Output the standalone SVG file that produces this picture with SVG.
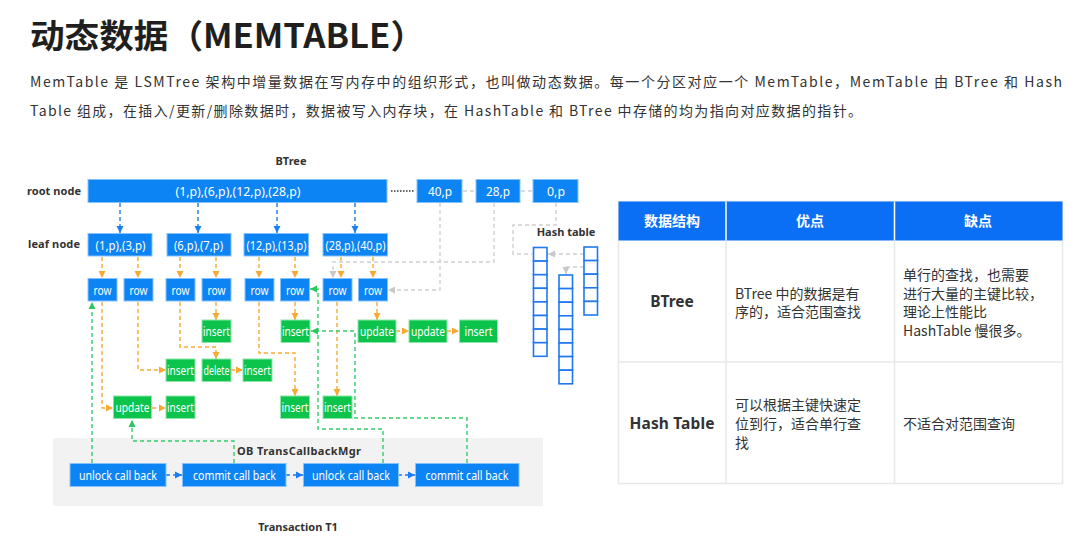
<svg xmlns="http://www.w3.org/2000/svg" width="1086" height="547" viewBox="0 0 1086 547">
<defs>
<style>
.f{font-family:"Noto Sans","Open Sans","Noto Sans CJK SC",sans-serif}
.cjk{font-family:"Noto Sans CJK SC","Noto Sans",sans-serif}
.b{fill:#0d84f4;stroke:#86c1ff;stroke-width:1}
.g{fill:#0cc44b;stroke:#8de6a8;stroke-width:1}
.nt{font-family:"Noto Sans","Open Sans",sans-serif;font-size:12px;fill:#fff;text-anchor:middle;dominant-baseline:central}
.lb{font-family:"Noto Sans","Open Sans",sans-serif;font-weight:bold;fill:#333;font-size:11px}
.o{fill:none;stroke:#f7a934;stroke-width:1.4;stroke-dasharray:4 3}
.bl{fill:none;stroke:#1a7ef2;stroke-width:1.4;stroke-dasharray:4 3}
.gr{fill:none;stroke:#35cd68;stroke-width:1.4;stroke-dasharray:4 3}
.gy{fill:none;stroke:#d0d0d0;stroke-width:1.4;stroke-dasharray:4 3}
.hc{fill:#fff;stroke:#1f78f0;stroke-width:1.6}
.tt{font-family:"Noto Sans CJK SC","Noto Sans",sans-serif;font-size:14px;fill:#333}
</style>
<marker id="mo" markerUnits="userSpaceOnUse" markerWidth="8" markerHeight="8" refX="7" refY="4" orient="auto"><path d="M0,0.5 L7,4 L0,7.5 z" fill="#f7a934"/></marker>
<marker id="mb" markerUnits="userSpaceOnUse" markerWidth="8" markerHeight="8" refX="7" refY="4" orient="auto"><path d="M0,0.5 L7,4 L0,7.5 z" fill="#1a7ef2"/></marker>
<marker id="mg" markerUnits="userSpaceOnUse" markerWidth="8" markerHeight="8" refX="7" refY="4" orient="auto"><path d="M0,0.5 L7,4 L0,7.5 z" fill="#2cc85f"/></marker>
<marker id="my" markerUnits="userSpaceOnUse" markerWidth="8" markerHeight="8" refX="7" refY="4" orient="auto"><path d="M0,0.5 L7,4 L0,7.5 z" fill="#c8c8c8"/></marker>
</defs>
<rect width="1086" height="547" fill="#fff"/>

<text x="30" y="48" class="cjk" font-size="33" font-weight="bold" fill="#1f1f1f" textLength="395" lengthAdjust="spacingAndGlyphs">动态数据（MEMTABLE）</text>
<text x="30" y="87" class="tt" textLength="1032" lengthAdjust="spacing">MemTable 是 LSMTree 架构中增量数据在写内存中的组织形式，也叫做动态数据。每一个分区对应一个 MemTable，MemTable 由 BTree 和 Hash</text>
<text x="30" y="116" class="tt" textLength="832" lengthAdjust="spacing">Table 组成，在插入/更新/删除数据时，数据被写入内存块，在 HashTable 和 BTree 中存储的均为指向对应数据的指针。</text>

<!-- labels -->
<text x="291" y="165" class="lb" font-size="12" text-anchor="middle">BTree</text>
<text x="27" y="195" class="lb" font-size="10.5" textLength="54">root node</text>
<text x="28" y="248" class="lb" font-size="10.5" textLength="52">leaf node</text>
<text x="566" y="236" class="lb" text-anchor="middle">Hash table</text>

<!-- bottom panel -->
<rect x="53" y="438" width="490" height="68" fill="#f2f2f2"/>
<text x="237" y="455" class="lb" font-size="12" textLength="124">OB TransCallbackMgr</text>
<text x="298" y="531" class="lb" font-size="12" text-anchor="middle">Transaction T1</text>

<g id="connectors">
<path class="bl" d="M120 203V233" marker-end="url(#mb)"/>
<path class="bl" d="M198 203V233" marker-end="url(#mb)"/>
<path class="bl" d="M277 203V233" marker-end="url(#mb)"/>
<path class="bl" d="M355 203V233" marker-end="url(#mb)"/>
<path d="M391 191H415" fill="none" stroke="#333" stroke-width="1.4" stroke-dasharray="1.5 1.5"/>
<path class="gy" d="M463 191H475"/>
<path class="gy" d="M521 191H533"/>
<path class="gy" d="M440 203V290H388" marker-end="url(#my)"/>
<path class="gy" d="M494 203V262H333V278" marker-end="url(#my)"/>
<path class="gy" d="M556 203V225H513V254H532"/>
<path class="gy" d="M584 254H548" marker-end="url(#my)"/>
<path class="gy" d="M584 267H566V274" marker-end="url(#my)"/>

<path class="o" d="M102 257V278" marker-end="url(#mo)"/>
<path class="o" d="M138 257V278" marker-end="url(#mo)"/>
<path class="o" d="M180 257V278" marker-end="url(#mo)"/>
<path class="o" d="M216 257V278" marker-end="url(#mo)"/>
<path class="o" d="M259 257V278" marker-end="url(#mo)"/>
<path class="o" d="M295 257V278" marker-end="url(#mo)"/>
<path class="o" d="M341 257V278" marker-end="url(#mo)"/>
<path class="o" d="M373 257V278" marker-end="url(#mo)"/>

<path class="o" d="M102 302V408H113" marker-end="url(#mo)"/>
<path class="o" d="M138 302V370H166" marker-end="url(#mo)"/>
<path class="o" d="M180 302V347H216V359" marker-end="url(#mo)"/>
<path class="o" d="M216 302V320" marker-end="url(#mo)"/>
<path class="o" d="M259 302V353H295V396" marker-end="url(#mo)"/>
<path class="o" d="M295 302V320" marker-end="url(#mo)"/>
<path class="o" d="M337 302V396" marker-end="url(#mo)"/>
<path class="o" d="M377 302V320" marker-end="url(#mo)"/>
<path class="o" d="M231 370H243" marker-end="url(#mo)"/>
<path class="o" d="M152 408H166" marker-end="url(#mo)"/>
<path class="o" d="M396 331H409" marker-end="url(#mo)"/>
<path class="o" d="M447 331H459" marker-end="url(#mo)"/>

<path class="gr" d="M92 463V302" marker-end="url(#mg)"/>
<path class="gr" d="M234 463V441H132V420" marker-end="url(#mg)"/>
<path class="gr" d="M383 463V429H318V289H310" marker-end="url(#mg)"/>
<path class="gr" d="M467 463V418H355V331H311" marker-end="url(#mg)"/>

<path class="bl" d="M166 475H182" marker-end="url(#mb)"/>
<path class="bl" d="M286 475H303" marker-end="url(#mb)"/>
<path class="bl" d="M398 475H415" marker-end="url(#mb)"/>
</g>

<g id="root"><rect class="b" x="88" y="179.5" width="299" height="23"/><text class="nt" x="238" y="191" font-size="12.5" textLength="125" lengthAdjust="spacingAndGlyphs">(1,p),(6,p),(12,p),(28,p)</text></g>
<g id="h40"><rect class="b" x="417" y="179.5" width="45" height="23"/><text class="nt" x="440" y="191" font-size="12.5" textLength="24" lengthAdjust="spacingAndGlyphs">40,p</text></g>
<g id="h28"><rect class="b" x="476" y="179.5" width="44" height="23"/><text class="nt" x="498" y="191" font-size="12.5" textLength="24" lengthAdjust="spacingAndGlyphs">28,p</text></g>
<g id="h0"><rect class="b" x="533" y="179.5" width="45" height="23"/><text class="nt" x="556" y="191" font-size="12.5" textLength="18" lengthAdjust="spacingAndGlyphs">0,p</text></g>

<g id="leaf1"><rect class="b" x="88" y="233.5" width="64" height="22.5"/><text class="nt" x="120.5" y="245" textLength="50" lengthAdjust="spacingAndGlyphs">(1,p),(3,p)</text></g>
<g id="leaf2"><rect class="b" x="167" y="233.5" width="64" height="22.5"/><text class="nt" x="198.5" y="245" textLength="49" lengthAdjust="spacingAndGlyphs">(6,p),(7,p)</text></g>
<g id="leaf3"><rect class="b" x="244" y="233.5" width="64.5" height="22.5"/><text class="nt" x="276.5" y="245" textLength="60" lengthAdjust="spacingAndGlyphs">(12,p),(13,p)</text></g>
<g id="leaf4"><rect class="b" x="323" y="233.5" width="64.5" height="22.5"/><text class="nt" x="355.5" y="245" textLength="60" lengthAdjust="spacingAndGlyphs">(28,p),(40,p)</text></g>

<g id="row1"><rect class="b" x="88" y="278.5" width="29" height="22.5"/><text class="nt" x="102.5" y="290" textLength="18" lengthAdjust="spacingAndGlyphs">row</text></g>
<g id="row2"><rect class="b" x="124" y="278.5" width="29" height="22.5"/><text class="nt" x="138.5" y="290" textLength="18" lengthAdjust="spacingAndGlyphs">row</text></g>
<g id="row3"><rect class="b" x="166" y="278.5" width="29" height="22.5"/><text class="nt" x="180.5" y="290" textLength="18" lengthAdjust="spacingAndGlyphs">row</text></g>
<g id="row4"><rect class="b" x="202" y="278.5" width="29" height="22.5"/><text class="nt" x="216.5" y="290" textLength="18" lengthAdjust="spacingAndGlyphs">row</text></g>
<g id="row5"><rect class="b" x="245" y="278.5" width="29" height="22.5"/><text class="nt" x="259.5" y="290" textLength="18" lengthAdjust="spacingAndGlyphs">row</text></g>
<g id="row6"><rect class="b" x="280.5" y="278.5" width="29" height="22.5"/><text class="nt" x="295" y="290" textLength="18" lengthAdjust="spacingAndGlyphs">row</text></g>
<g id="row7"><rect class="b" x="323" y="278.5" width="29" height="22.5"/><text class="nt" x="337.5" y="290" textLength="18" lengthAdjust="spacingAndGlyphs">row</text></g>
<g id="row8"><rect class="b" x="358.5" y="278.5" width="29" height="22.5"/><text class="nt" x="373" y="290" textLength="18" lengthAdjust="spacingAndGlyphs">row</text></g>

<g id="ins4"><rect class="g" x="202" y="320" width="29" height="22.5"/><text class="nt" x="216.5" y="331.5" textLength="27" lengthAdjust="spacingAndGlyphs">insert</text></g>
<g id="ins6"><rect class="g" x="281" y="320" width="29" height="22.5"/><text class="nt" x="295.5" y="331.5" textLength="27" lengthAdjust="spacingAndGlyphs">insert</text></g>
<g id="upd8a"><rect class="g" x="358" y="320" width="38" height="22.5"/><text class="nt" x="377" y="331.5" textLength="34" lengthAdjust="spacingAndGlyphs">update</text></g>
<g id="upd8b"><rect class="g" x="409" y="320" width="38" height="22.5"/><text class="nt" x="428" y="331.5" textLength="34" lengthAdjust="spacingAndGlyphs">update</text></g>
<g id="ins8"><rect class="g" x="459.5" y="320" width="38" height="22.5"/><text class="nt" x="478.5" y="331.5" textLength="28" lengthAdjust="spacingAndGlyphs">insert</text></g>

<g id="ins2"><rect class="g" x="166" y="359" width="29" height="22.5"/><text class="nt" x="180.5" y="370.5" textLength="27" lengthAdjust="spacingAndGlyphs">insert</text></g>
<g id="del3"><rect class="g" x="202" y="359" width="29" height="22.5"/><text class="nt" x="216.5" y="370.5" textLength="26" lengthAdjust="spacingAndGlyphs">delete</text></g>
<g id="ins3"><rect class="g" x="243" y="359" width="29" height="22.5"/><text class="nt" x="257.5" y="370.5" textLength="27" lengthAdjust="spacingAndGlyphs">insert</text></g>

<g id="upd1"><rect class="g" x="113.5" y="396" width="38" height="22.5"/><text class="nt" x="132.5" y="407.5" textLength="34" lengthAdjust="spacingAndGlyphs">update</text></g>
<g id="ins1"><rect class="g" x="166" y="396" width="29" height="22.5"/><text class="nt" x="180.5" y="407.5" textLength="27" lengthAdjust="spacingAndGlyphs">insert</text></g>
<g id="ins5"><rect class="g" x="280.5" y="396" width="29" height="22.5"/><text class="nt" x="295" y="407.5" textLength="27" lengthAdjust="spacingAndGlyphs">insert</text></g>
<g id="ins7"><rect class="g" x="323" y="396" width="29" height="22.5"/><text class="nt" x="337.5" y="407.5" textLength="27" lengthAdjust="spacingAndGlyphs">insert</text></g>

<g id="cb1"><rect class="b" x="70" y="463.5" width="96" height="23"/><text class="nt" x="118" y="475" textLength="78" lengthAdjust="spacingAndGlyphs">unlock call back</text></g>
<g id="cb2"><rect class="b" x="182.5" y="463.5" width="103.5" height="23"/><text class="nt" x="234.5" y="475" textLength="83" lengthAdjust="spacingAndGlyphs">commit call back</text></g>
<g id="cb3"><rect class="b" x="303.5" y="463.5" width="95" height="23"/><text class="nt" x="351" y="475" textLength="78" lengthAdjust="spacingAndGlyphs">unlock call back</text></g>
<g id="cb4"><rect class="b" x="415.5" y="463.5" width="103.5" height="23"/><text class="nt" x="467" y="475" textLength="83" lengthAdjust="spacingAndGlyphs">commit call back</text></g>

<g id="hashtable">
<rect class="hc" x="533.5" y="247.5" width="13.5" height="13.6"/>
<rect class="hc" x="533.5" y="261.1" width="13.5" height="13.6"/>
<rect class="hc" x="533.5" y="274.7" width="13.5" height="13.6"/>
<rect class="hc" x="533.5" y="288.3" width="13.5" height="13.6"/>
<rect class="hc" x="533.5" y="301.9" width="13.5" height="13.6"/>
<rect class="hc" x="533.5" y="315.5" width="13.5" height="13.6"/>
<rect class="hc" x="533.5" y="329.1" width="13.5" height="13.6"/>
<rect class="hc" x="533.5" y="342.7" width="13.5" height="13.6"/>
<rect class="hc" x="559" y="275" width="13.5" height="13.6"/>
<rect class="hc" x="559" y="288.6" width="13.5" height="13.6"/>
<rect class="hc" x="559" y="302.2" width="13.5" height="13.6"/>
<rect class="hc" x="559" y="315.8" width="13.5" height="13.6"/>
<rect class="hc" x="559" y="329.4" width="13.5" height="13.6"/>
<rect class="hc" x="559" y="343" width="13.5" height="13.6"/>
<rect class="hc" x="559" y="356.6" width="13.5" height="13.6"/>
<rect class="hc" x="559" y="370.2" width="13.5" height="13.6"/>
<rect class="hc" x="584" y="247" width="13.5" height="13.6"/>
<rect class="hc" x="584" y="260.6" width="13.5" height="13.6"/>
<rect class="hc" x="584" y="274.2" width="13.5" height="13.6"/>
<rect class="hc" x="584" y="287.8" width="13.5" height="13.6"/>
<rect class="hc" x="584" y="301.4" width="13.5" height="13.6"/>
</g>

<g id="table">
<rect x="618.5" y="201.5" width="444" height="282" fill="#fff" stroke="#e8e8e8" stroke-width="1.5"/>
<rect x="618.5" y="201.5" width="444" height="39" fill="#0b6ff6"/>
<path d="M726 201.5V240.5M894.5 201.5V240.5" stroke="#fff" stroke-width="1.5"/>
<path d="M726 240.5V483.5M894.5 240.5V483.5M618.5 362H1062.5" stroke="#e8e8e8" stroke-width="1.5" fill="none"/>
<text x="672" y="226" class="cjk" font-size="14" font-weight="bold" fill="#fff" text-anchor="middle">数据结构</text>
<text x="810" y="226" class="cjk" font-size="14" font-weight="bold" fill="#fff" text-anchor="middle">优点</text>
<text x="978" y="226" class="cjk" font-size="14" font-weight="bold" fill="#fff" text-anchor="middle">缺点</text>
<text x="672" y="307" class="f" font-size="15.5" font-weight="bold" fill="#333" text-anchor="middle">BTree</text>
<text x="672" y="429" class="f" font-size="15.5" font-weight="bold" fill="#333" text-anchor="middle" textLength="85">Hash Table</text>
<text class="tt"><tspan x="735" y="298.5">BTree 中的数据是有</tspan><tspan x="735" y="317">序的，适合范围查找</tspan></text>
<text class="tt"><tspan x="903" y="279.5">单行的查找，也需要</tspan><tspan x="903" y="298.5">进行大量的主键比较，</tspan><tspan x="903" y="317">理论上性能比</tspan><tspan x="903" y="336">HashTable 慢很多。</tspan></text>
<text class="tt"><tspan x="735" y="410">可以根据主键快速定</tspan><tspan x="735" y="429">位到行，适合单行查</tspan><tspan x="735" y="448">找</tspan></text>
<text class="tt" x="903" y="429">不适合对范围查询</text>
</g>
</svg>
